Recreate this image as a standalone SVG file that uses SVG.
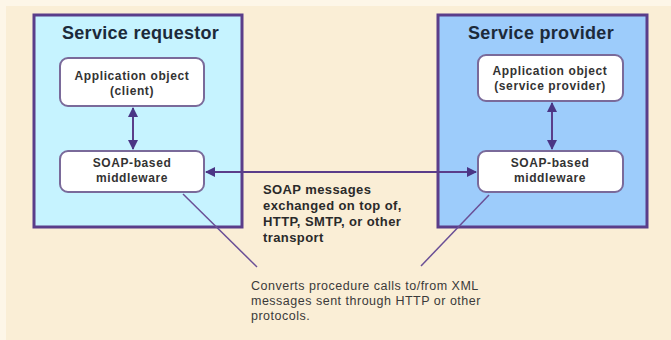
<svg xmlns="http://www.w3.org/2000/svg" width="671" height="340" viewBox="0 0 671 340">
<style>
.bg{fill:#faeed6}
.outer{stroke:#5a3d8a;stroke-width:3}
.inner{fill:#ffffff;stroke:#7a6a9a;stroke-width:2}
.title{font-family:"Liberation Sans",Arial,sans-serif;font-weight:bold;font-size:18px;letter-spacing:0.3px;fill:#1c2a3a}
.lbl{font-family:"Liberation Sans",Arial,sans-serif;font-weight:bold;font-size:12px;letter-spacing:0.6px;fill:#333;text-anchor:middle}
.msg{font-family:"Liberation Sans",Arial,sans-serif;font-weight:bold;font-size:13px;letter-spacing:0.4px;fill:#2a2a2a}
.note{font-family:"Liberation Sans",Arial,sans-serif;font-size:12.5px;letter-spacing:0.5px;fill:#3a3a3a}
.conn{stroke:#5a3d8a;stroke-width:2;fill:none}
.diag{stroke:#6a4f96;stroke-width:1.5;fill:none}
</style>
<defs>
<marker id="ah" viewBox="0 0 10 10" refX="9" refY="5" markerWidth="5" markerHeight="5" orient="auto-start-reverse">
<path d="M0,0 L10,5 L0,10 z" fill="#4a3585"/>
</marker>
</defs>
<rect width="671" height="340" fill="#fdf6e8"/>
<rect x="6" y="6" width="665" height="334" class="bg"/>
<g id="requestor">
<rect x="34" y="15" width="208" height="212" fill="#c6f3ff" class="outer"/>
<text x="62" y="39" class="title">Service requestor</text>
</g>
<g id="provider">
<rect x="438" y="15" width="209" height="212" fill="#9dccfb" class="outer"/>
<text x="541" y="39" class="title" text-anchor="middle">Service provider</text>
</g>
<g id="app-client">
<rect x="60" y="58" width="144" height="48" rx="8" class="inner"/>
<text x="132" y="80" class="lbl">Application object</text>
<text x="132" y="95" class="lbl">(client)</text>
</g>
<g id="mw-client">
<rect x="60" y="151" width="144" height="41" rx="8" class="inner"/>
<text x="132" y="167" class="lbl">SOAP-based</text>
<text x="132" y="182" class="lbl">middleware</text>
</g>
<g id="app-provider">
<rect x="478" y="55" width="145" height="46" rx="8" class="inner"/>
<text x="550" y="75" class="lbl">Application object</text>
<text x="550" y="90" class="lbl">(service provider)</text>
</g>
<g id="mw-provider">
<rect x="478" y="151" width="145" height="41" rx="8" class="inner"/>
<text x="550" y="167" class="lbl">SOAP-based</text>
<text x="550" y="182" class="lbl">middleware</text>
</g>
<g id="connectors">
<line x1="133" y1="108" x2="133" y2="149" class="conn" marker-start="url(#ah)" marker-end="url(#ah)"/>
<line x1="552" y1="103" x2="552" y2="149" class="conn" marker-start="url(#ah)" marker-end="url(#ah)"/>
<line x1="206" y1="172" x2="476" y2="172" class="conn" marker-start="url(#ah)" marker-end="url(#ah)"/>
<line x1="183" y1="194" x2="257" y2="267" class="diag"/>
<line x1="489" y1="195" x2="421" y2="266" class="diag"/>
</g>
<g id="soap-label">
<text class="msg"><tspan x="263" y="194">SOAP messages</tspan><tspan x="263" y="210">exchanged on top of,</tspan><tspan x="263" y="226">HTTP, SMTP, or other</tspan><tspan x="263" y="242">transport</tspan></text>
</g>
<g id="converts-label">
<text class="note"><tspan x="251" y="290">Converts procedure calls to/from XML</tspan><tspan x="251" y="305">messages sent through HTTP or other</tspan><tspan x="251" y="320">protocols.</tspan></text>
</g>
</svg>
